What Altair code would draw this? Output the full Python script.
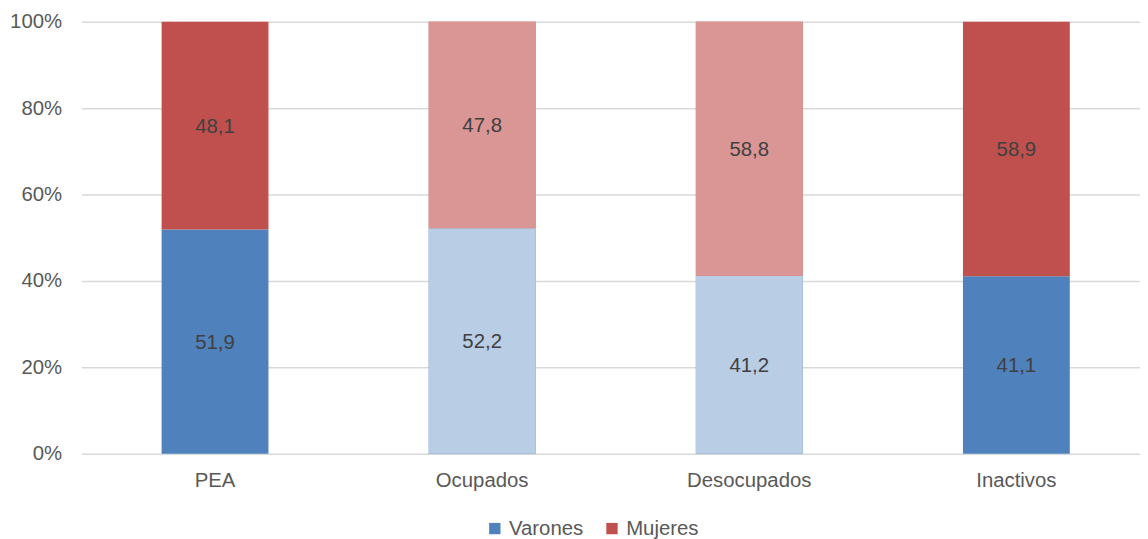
import altair as alt
import pandas as pd

categories = ["PEA", "Ocupados", "Desocupados", "Inactivos"]
varones = [51.9, 52.2, 41.2, 41.1]
mujeres = [48.1, 47.8, 58.8, 58.9]
light_cats = ["Ocupados", "Desocupados"]
series_names = ["Varones", "Mujeres"]

rows = []
for i, c in enumerate(categories):
    rows.append({"cat": c, "series": "Varones", "order": 0, "value": varones[i],
                 "light": c in light_cats})
    rows.append({"cat": c, "series": "Mujeres", "order": 1, "value": mujeres[i],
                 "light": c in light_cats})
df = pd.DataFrame(rows)

FONT = "Liberation Sans"
FS = 20.5

base = alt.Chart(df).transform_stack(
    stack="value", groupby=["cat"], as_=["v0", "v1"], offset="normalize",
    sort=[alt.SortField("order", order="ascending")]
).transform_calculate(
    mid="(datum.v0 + datum.v1) / 2",
    label="replace(format(datum.value, '.1f'), '.', ',')"
)

x_enc = alt.X("cat:N", sort=categories, title=None,
              scale=alt.Scale(paddingInner=0.6, paddingOuter=0.3),
              axis=alt.Axis(labelAngle=0, domain=False, ticks=False, labelPadding=17,
                            labelFontSize=FS, labelColor="#595959", labelFont=FONT))

y_enc = alt.Y("v0:Q", title=None, scale=alt.Scale(domain=[0, 1], nice=False),
              axis=alt.Axis(format="%", values=[0, 0.2, 0.4, 0.6, 0.8, 1.0],
                            domain=False, ticks=False, labelPadding=20,
                            labelFontSize=FS, labelColor="#595959", labelFont=FONT,
                            grid=True, gridColor="#d9d9d9", gridWidth=1.5))

dark = base.mark_bar().encode(
    x=x_enc,
    y=y_enc,
    y2="v1:Q",
    color=alt.Color("series:N", sort=series_names,
                    scale=alt.Scale(domain=series_names, range=["#4F81BD", "#C0504D"]),
                    legend=alt.Legend(title=None, orient="none", direction="horizontal",
                                      legendX=406, legendY=500, symbolType="square",
                                      symbolSize=130, symbolStrokeWidth=0,
                                      labelFontSize=FS, labelColor="#595959",
                                      labelFont=FONT, labelOffset=4, columnPadding=18)),
)

light = base.transform_filter("datum.light").mark_bar().encode(
    x=alt.X("cat:N", sort=categories),
    y=alt.Y("v0:Q"),
    y2="v1:Q",
    color=alt.condition("datum.series == 'Varones'", alt.value("#B9CDE5"), alt.value("#D99694")),
)

labels = base.mark_text(fontSize=FS, font=FONT, color="#404040", dy=1).encode(
    x=alt.X("cat:N", sort=categories),
    y=alt.Y("mid:Q"),
    text="label:N",
)

chart = alt.layer(dark, light, labels).properties(
    width=1076, height=435,
    padding={"left": 74, "top": 12, "right": -10, "bottom": 84},
    autosize=alt.AutoSizeParams(type="none"),
).configure_view(stroke=None)

chart.save("out.html", embed_options={"renderer": "svg", "actions": False})
